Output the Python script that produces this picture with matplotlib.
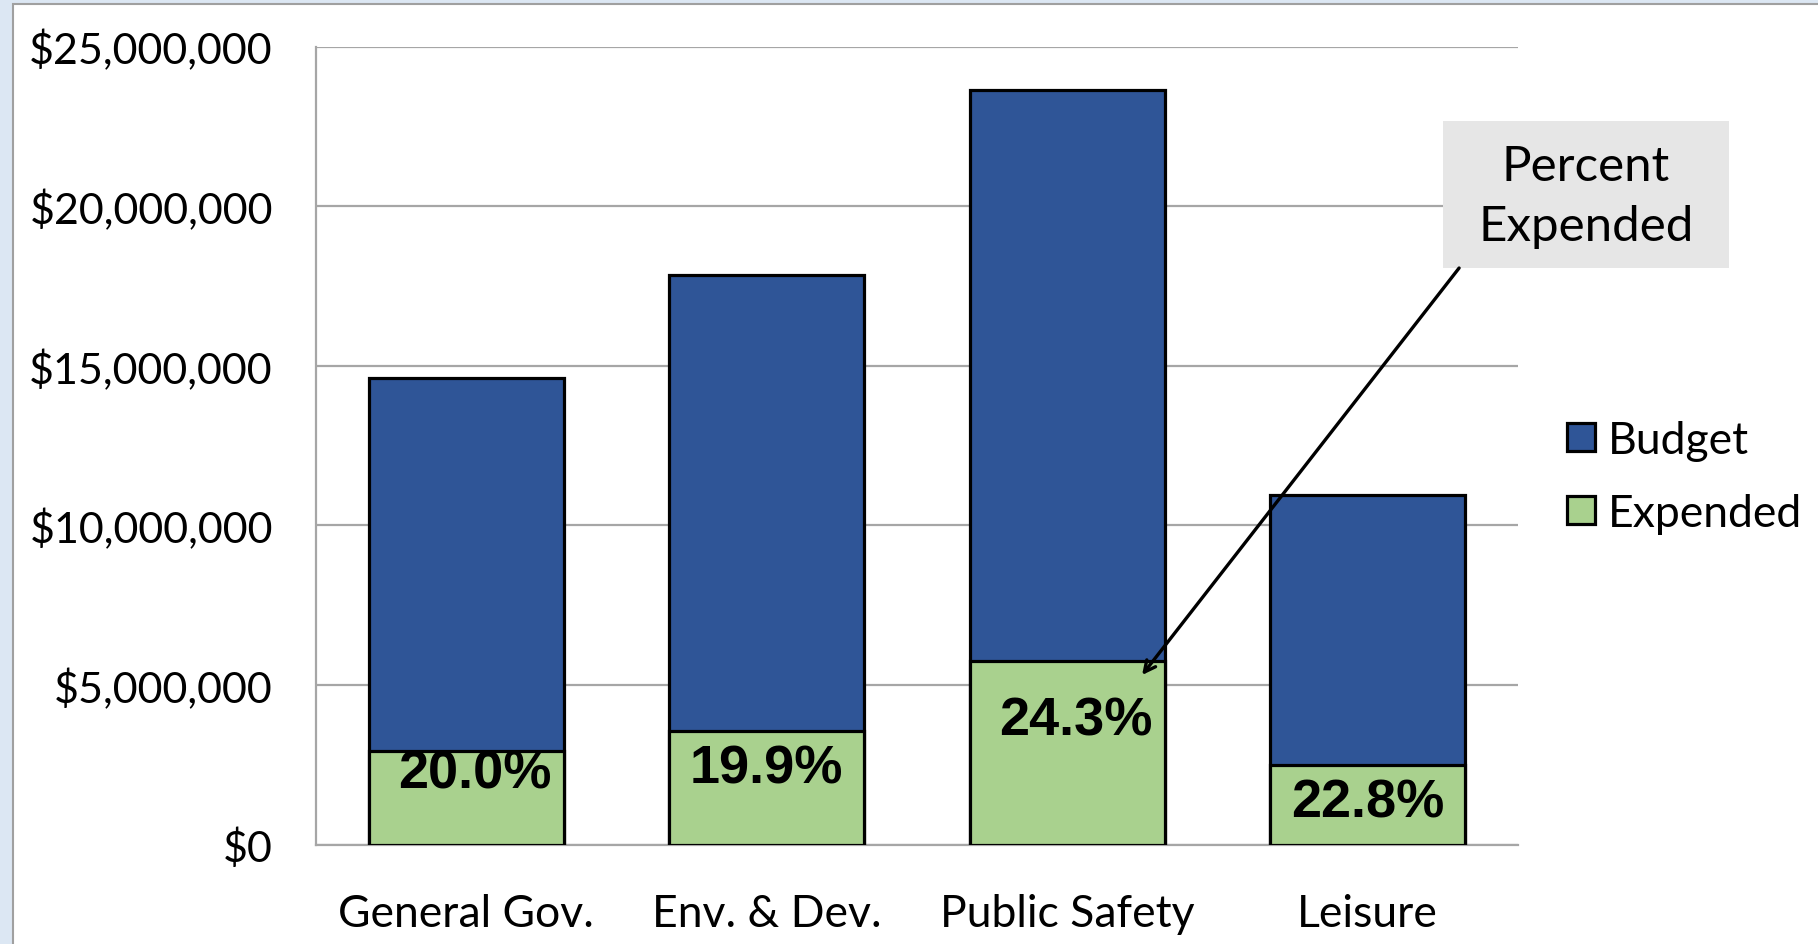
import matplotlib.pyplot as plt
from matplotlib.patches import Patch, Rectangle
from matplotlib.ticker import FuncFormatter, MultipleLocator

# budget vs expended by department (dollars)
departments = ["General Gov.", "Env. & Dev.", "Public Safety", "Leisure"]
budget = [14600000, 17850000, 23650000, 10950000]
expended = [2920000, 3552000, 5747000, 2497000]
pct_labels = ["20.0%", "19.9%", "24.3%", "22.8%"]

# where the percent labels sit (x shift in category units, y centre in $)
lbl_dx = [0.03, 0.0, 0.03, 0.0]
lbl_y = [2210000, 2390000, 3880000, 1310000]

blue = "#2F5597"
green = "#A9D18E"
grid_c = "#A6A6A6"
tick_font = "Lato"

fig = plt.figure(figsize=(18.18, 9.45), dpi=100)
fig.patch.set_facecolor("#DCE7F3")
# white chart area with a thin grey frame
fig.patches.append(Rectangle((13 / 1818, -0.05), 1.2, 1 - 5 / 945 + 0.05,
                             transform=fig.transFigure, facecolor="white",
                             edgecolor="#A0A0A0", linewidth=1.5, zorder=-5))

ax = fig.add_axes([316 / 1818, 99.5 / 945, 1202 / 1818, 798 / 945])
ax.set_facecolor("none")

x = list(range(len(departments)))
ax.bar(x, budget, width=0.65, color=blue, edgecolor="black", linewidth=2.3,
       label="Budget", zorder=3)
ax.bar(x, expended, width=0.65, color=green, edgecolor="black", linewidth=2.3,
       label="Expended", zorder=4)

for i, t in enumerate(pct_labels):
    ax.text(x[i] + lbl_dx[i], lbl_y[i], t, ha="center", va="center",
            fontsize=39, fontweight="bold", family="Liberation Sans", zorder=5)

ax.set_xlim(-0.5, 3.5)
ax.set_ylim(0, 25000000)
ax.yaxis.set_major_locator(MultipleLocator(5000000))
ax.yaxis.set_major_formatter(FuncFormatter(lambda v, p: "${:,.0f}".format(v)))
ax.set_xticks(x)
ax.set_xticklabels(departments)
ax.grid(axis="y", color=grid_c, linewidth=1.6, zorder=0)
ax.set_axisbelow(True)
for s in ["top", "right"]:
    ax.spines[s].set_visible(False)
for s in ["left", "bottom"]:
    ax.spines[s].set_color(grid_c)
    ax.spines[s].set_linewidth(1.6)
ax.tick_params(axis="y", length=0, pad=31, labelsize=31)
ax.tick_params(axis="x", length=0, pad=35, labelsize=32)
for lab in ax.get_xticklabels() + ax.get_yticklabels():
    lab.set_family(tick_font)

# legend
handles = [Patch(facecolor=blue, edgecolor="black", linewidth=2.3),
           Patch(facecolor=green, edgecolor="black", linewidth=2.3)]
leg = ax.legend(handles, ["Budget", "Expended"], loc="center left",
                bbox_to_anchor=(1.041, 0.461), frameon=False,
                prop={"family": tick_font, "size": 32},
                handlelength=0.62, handleheight=0.62, handletextpad=0.3,
                labelspacing=0.72, borderpad=0, borderaxespad=0)

# "Percent Expended" call-out
ax.add_patch(Rectangle((0.9376, 0.7224), 0.2379, 0.1844, transform=ax.transAxes,
                       facecolor="#E6E6E6", edgecolor="none", clip_on=False,
                       zorder=6))
ax.text(1.0566, 0.8125, "Percent\nExpended", transform=ax.transAxes,
        ha="center", va="center", fontsize=35.5, family=tick_font,
        linespacing=1.45, zorder=7)
ax.annotate("", xy=(2.249, 5310000), xytext=(3.304, 18060000),
            arrowprops=dict(arrowstyle="->,head_length=0.8,head_width=0.4",
                            color="black", lw=2.4, shrinkA=0, shrinkB=0),
            annotation_clip=False, zorder=7)

fig.savefig("out.png", dpi=100, facecolor=fig.get_facecolor())
